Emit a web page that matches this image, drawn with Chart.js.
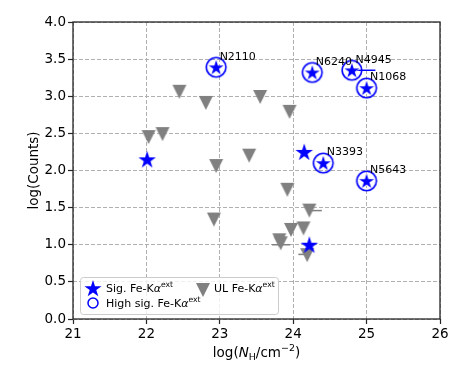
<!DOCTYPE html>
<html>
<head>
<meta charset="utf-8">
<script src="https://cdn.jsdelivr.net/npm/chart.js@4/dist/chart.umd.min.js"></script>
<style>
  html, body { margin: 0; padding: 0; background: #fff; }
  canvas { display: block; }
</style>
</head>
<body>
<canvas id="nhChart" width="463" height="371"></canvas>
<script>
// ---- data ----
const sigX = [22.01, 24.15, 24.22];
const sigY = [2.15, 2.25, 1.00];

const highNames = ['N2110', 'N6240', 'N4945', 'N1068', 'N3393', 'N5643'];
const highX = [22.95, 24.26, 24.80, 25.00, 24.41, 25.00];
const highY = [3.39, 3.32, 3.35, 3.11, 2.10, 1.86];

const ulX = [22.45, 22.81, 23.55, 22.03, 22.22, 22.95, 23.40, 23.95, 22.92, 23.92, 24.22, 24.14, 23.97, 23.81, 23.83, 24.19];
const ulY = [3.06, 2.91, 2.99, 2.45, 2.49, 2.06, 2.20, 2.79, 1.34, 1.74, 1.46, 1.22, 1.20, 1.06, 1.02, 0.86];

// horizontal error bars (y, from, to)
const errY  = [3.35, 1.46, 1.00, 0.87];
const errLo = [24.80, 24.22, 23.71, 24.07];
const errHi = [25.12, 24.39, 23.96, 24.19];
const errKind = ['high', 'ul', 'ul', 'ul'];

const xTicks = [21, 22, 23, 24, 25, 26];
const yTicks = [0, 0.5, 1, 1.5, 2, 2.5, 3, 3.5, 4];

const BLUE = '#0000ff';
const GREY = '#808080';
const FONT = "'DejaVu Sans', sans-serif";

// ---- marker images ----
function makeMarker(size, draw) {
    const c = document.createElement('canvas');
    c.width = size; c.height = size;
    draw(c.getContext('2d'), size / 2);
    return c;
}

function starPath(g, cx, cy, R) {
    g.beginPath();
    for (let i = 0; i < 10; i++) {
        const a = -Math.PI / 2 + i * Math.PI / 5;
        const r = i % 2 ? R * 0.382 : R;
        const px = cx + r * Math.cos(a), py = cy + r * Math.sin(a);
        i ? g.lineTo(px, py) : g.moveTo(px, py);
    }
    g.closePath();
}

function triPath(g, cx, cy, h) {
    g.beginPath();
    g.moveTo(cx - h, cy - h);
    g.lineTo(cx + h, cy - h);
    g.lineTo(cx, cy + h);
    g.closePath();
}

const starImg = makeMarker(22, (g, c) => {
    starPath(g, c, c + 0.8, 9.2);
    g.fillStyle = BLUE; g.fill();
});

const highImg = makeMarker(26, (g, c) => {
    // white halo star, then the blue star, then the open circle
    starPath(g, c, c + 0.6, 9.6);
    g.fillStyle = '#fff'; g.fill();
    starPath(g, c, c + 0.6, 7.8);
    g.fillStyle = BLUE; g.fill();
    g.beginPath(); g.arc(c, c, 9.8, 0, Math.PI * 2);
    g.strokeStyle = BLUE; g.lineWidth = 1.6; g.stroke();
});

const triImg = makeMarker(18, (g, c) => {
    triPath(g, c, c, 7);
    g.fillStyle = GREY; g.fill();
});

// ---- datasets ----
function pts(xs, ys) { return xs.map((x, i) => ({ x: x, y: ys[i] })); }

const errSets = errY.map((y, i) => ({
    type: 'line',
    data: [{ x: errLo[i], y: y }, { x: errHi[i], y: y }],
    borderColor: errKind[i] === 'high' ? BLUE : GREY,
    borderWidth: 1.5,
    pointRadius: 0,
    showLine: true,
    order: 10
}));

// ---- helpers for rich text (italic / sub / superscript) ----
function drawRich(ctx, parts, x, y, size, align) {
    let total = 0;
    const measured = parts.map(p => {
        const s = p.sub || p.sup ? size * 0.7 : size;
        const f = (p.it ? 'italic ' : '') + s + 'px ' + FONT;
        ctx.font = f;
        const w = ctx.measureText(p.t).width;
        total += w;
        return { p, f, w };
    });
    let cx = align === 'center' ? x - total / 2 : x;
    ctx.textAlign = 'left';
    ctx.textBaseline = 'alphabetic';
    measured.forEach(m => {
        ctx.font = m.f;
        let dy = 0;
        if (m.p.sub) dy = size * 0.22;
        if (m.p.sup) dy = -size * 0.42;
        ctx.fillText(m.p.t, cx, y + dy);
        cx += m.w;
    });
}

const decorPlugin = {
    id: 'decor',
    afterDatasetsDraw(chart) {
        const ctx = chart.ctx;
        const xs = chart.scales.x, ys = chart.scales.y;
        const a = chart.chartArea;
        ctx.save();
        // source labels
        ctx.fillStyle = '#000';
        ctx.font = '11px ' + FONT;
        ctx.textAlign = 'left';
        ctx.textBaseline = 'middle';
        highNames.forEach((n, i) => {
            ctx.fillText(n, xs.getPixelForValue(highX[i]) + 3.5, ys.getPixelForValue(highY[i]) - 10.5);
        });
        // frame
        ctx.strokeStyle = '#262626';
        ctx.lineWidth = 1.3;
        ctx.strokeRect(a.left, a.top, a.right - a.left, a.bottom - a.top);

        // legend box
        const lx = 80, ly = 277, lw = 198, lh = 37;
        ctx.beginPath();
        ctx.roundRect(lx + 0.5, ly + 0.5, lw, lh, 3);
        ctx.fillStyle = 'rgba(255,255,255,0.8)';
        ctx.fill();
        ctx.strokeStyle = '#cccccc';
        ctx.lineWidth = 1;
        ctx.stroke();

        // legend markers
        starPath(ctx, 93, 289, 9);
        ctx.fillStyle = BLUE; ctx.fill();
        ctx.beginPath(); ctx.arc(93, 303, 5, 0, Math.PI * 2);
        ctx.strokeStyle = BLUE; ctx.lineWidth = 1.5; ctx.stroke();
        triPath(ctx, 203, 290, 7);
        ctx.fillStyle = GREY; ctx.fill();

        // legend texts
        ctx.fillStyle = '#000';
        const alpha = [{ t: 'Fe-K' }, { t: '\u03b1', it: true }, { t: 'ext', sup: true }];
        drawRich(ctx, [{ t: 'Sig. ' }].concat(alpha), 106, 292, 11);
        drawRich(ctx, [{ t: 'High sig. ' }].concat(alpha), 106, 307, 11);
        drawRich(ctx, [{ t: 'UL ' }].concat(alpha), 214, 292, 11);

        // axis titles
        drawRich(ctx, [{ t: 'log(' }, { t: 'N', it: true }, { t: 'H', sub: true },
            { t: '/cm' }, { t: '\u22122', sup: true }, { t: ')' }], (a.left + a.right) / 2, 357, 13.5, 'center');
        ctx.translate(34, (a.top + a.bottom) / 2);
        ctx.rotate(-Math.PI / 2);
        ctx.font = '13.5px ' + FONT;
        ctx.textAlign = 'center';
        ctx.textBaseline = 'middle';
        ctx.fillText('log(Counts)', 0, 0);
        ctx.restore();
    }
};

function axisOpts(min, max, ticks, fmt) {
    return {
        type: 'linear',
        min: min, max: max,
        afterBuildTicks: s => { s.ticks = ticks.map(v => ({ value: v })); },
        ticks: {
            color: '#000',
            font: { family: FONT, size: 13.5 },
            padding: 2,
            callback: fmt
        },
        grid: {
            color: '#b0b0b0',
            lineWidth: 1,
            tickColor: '#262626',
            tickLength: 5,
            tickWidth: 1.2,
            tickBorderDash: []
        },
        border: { display: false, dash: [4, 2] }
    };
}

const xOpts = axisOpts(21, 26, xTicks, v => String(v));
xOpts.afterFit = s => { s.height = 52; };
const yOpts = axisOpts(0, 4, yTicks, v => v.toFixed(1));
yOpts.afterFit = s => { s.width = 73; };

new Chart(document.getElementById('nhChart'), {
    type: 'scatter',
    data: {
        datasets: [
            { data: pts(sigX, sigY), pointStyle: starImg, order: 1 },
            { data: pts(highX, highY), pointStyle: highImg, order: 2 },
            { data: pts(ulX, ulY), pointStyle: triImg, order: 3 }
        ].concat(errSets)
    },
    options: {
        responsive: false,
        animation: false,
        events: [],
        layout: { padding: { left: 0, right: 23, top: 22, bottom: 0 } },
        plugins: { legend: { display: false }, tooltip: { enabled: false } },
        scales: { x: xOpts, y: yOpts }
    },
    plugins: [decorPlugin]
});
</script>
</body>
</html>
